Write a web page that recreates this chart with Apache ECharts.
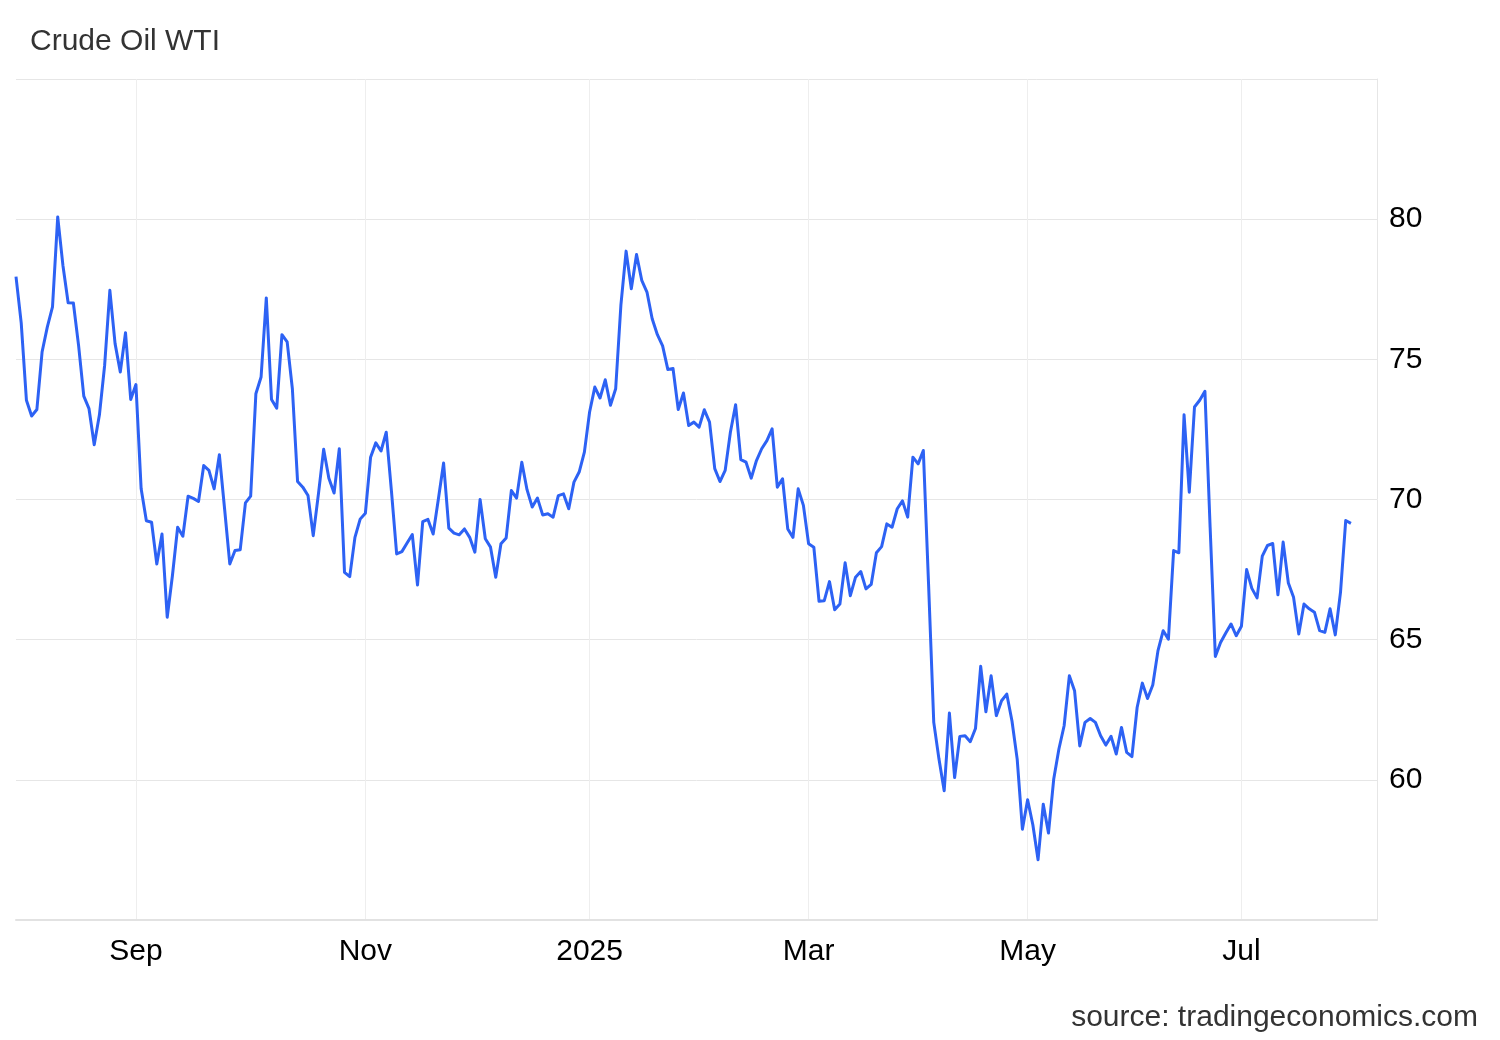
<!DOCTYPE html>
<html>
<head>
<meta charset="utf-8">
<script src="https://cdn.jsdelivr.net/npm/echarts@6/dist/echarts.min.js"></script>
<style>
  html, body { margin: 0; padding: 0; background: #ffffff; }
  #chart { width: 1500px; height: 1040px; }
</style>
</head>
<body>
<div id="chart"></div>
<script>
// ---- Trading calendar (weekdays, minus days with no print) ----
const firstDay = '2024-07-31';
const lastDay = '2025-08-06';          // axis runs a few sessions past the last price
const closedDays = ['2025-01-01', '2025-04-18', '2025-05-26', '2025-06-19'];

// ---- Month tick labels ----
const tickDates = ['2024-09-02', '2024-11-01', '2025-01-02', '2025-03-03', '2025-05-01', '2025-07-01'];
const tickLabels = ['Sep', 'Nov', '2025', 'Mar', 'May', 'Jul'];

// ---- Crude Oil WTI, USD/bbl, per month ----
const jul24 = [77.95];
const aug24 = [76.3, 73.54, 72.98, 73.21, 75.26, 76.15, 76.87, 80.08, 78.35, 77.02, 77.01,
               75.5, 73.69, 73.24, 71.95, 73.02, 74.79, 77.46, 75.56, 74.55, 75.95, 73.57];
const sep24 = [74.1, 70.38, 69.24, 69.19, 67.7, 68.77, 65.8, 67.29, 69.01, 68.69, 70.12,
               70.04, 69.93, 71.21, 71.04, 70.38, 71.6, 69.67, 67.7, 68.18, 68.21];
const oct24 = [69.88, 70.12, 73.77, 74.37, 77.19, 73.57, 73.26, 75.88, 75.62, 73.95, 70.64,
               70.44, 70.14, 68.71, 70.2, 71.79, 70.76, 70.23, 71.81, 67.4, 67.25, 68.65, 69.3];
const nov24 = [69.51, 71.51, 72.02, 71.73, 72.4, 70.3, 68.06, 68.14, 68.45, 68.75, 66.95,
               69.21, 69.29, 68.77, 70.02, 71.3, 68.98, 68.8, 68.74, 68.95, 68.65];
const dec24 = [68.12, 70.0, 68.6, 68.3, 67.23, 68.42, 68.63, 70.32, 70.05, 71.33, 70.35,
               69.73, 70.05, 69.45, 69.49, 69.37, 70.14, 70.2, 69.67, 70.62, 70.98, 71.69];
const jan25 = [73.12, 74.01, 73.62, 74.27, 73.36, 73.95, 76.93, 78.86, 77.52, 78.74, 77.82,
               77.4, 76.45, 75.88, 75.48, 74.64, 74.67, 73.21, 73.8, 72.64, 72.76, 72.58];
const feb25 = [73.2, 72.76, 71.1, 70.64, 71.04, 72.4, 73.38, 71.42, 71.33, 70.76, 71.39,
               71.81, 72.1, 72.52, 70.44, 70.74, 68.95, 68.65, 70.38, 69.79];
const mar25 = [68.42, 68.3, 66.37, 66.39, 67.07, 66.07, 66.27, 67.74, 66.57, 67.23, 67.43,
               66.81, 66.97, 68.1, 68.32, 69.13, 69.01, 69.67, 69.95, 69.37, 71.51];
const apr25 = [71.27, 71.75, 67.0, 62.05, 60.74, 59.61, 62.38, 60.08, 61.55, 61.57, 61.36,
               61.83, 64.05, 62.43, 63.71, 62.29, 62.82, 63.06, 62.1, 60.74, 58.24];
const may25 = [59.29, 58.4, 57.15, 59.13, 58.1, 60.02, 61.1, 61.93, 63.71, 63.18, 61.21,
               62.05, 62.19, 62.05, 61.57, 61.24, 61.55, 60.92, 61.87, 60.98, 60.83];
const jun25 = [62.58, 63.45, 62.9, 63.38, 64.61, 65.32, 65.02, 68.18, 68.1, 73.02, 70.26,
               73.3, 73.54, 73.86, 69.0, 64.4, 64.9, 65.24, 65.56, 65.14];
const jul25 = [65.48, 67.5, 66.83, 66.49, 67.98, 68.36, 68.43, 66.6, 68.48, 67.02, 66.51,
               65.2, 66.27, 66.1, 65.98, 65.32, 65.26, 66.1, 65.17, 66.69, 69.25, 69.15];

const prices = [].concat(jul24, aug24, sep24, oct24, nov24, dec24, jan25, feb25,
                         mar25, apr25, may25, jun25, jul25);

function buildCalendar(from, to, closed) {
  const out = [];
  const d = new Date(from + 'T00:00:00Z');
  const end = new Date(to + 'T00:00:00Z');
  while (d <= end) {
    const wd = d.getUTCDay();
    const s = d.toISOString().slice(0, 10);
    if (wd !== 0 && wd !== 6 && closed.indexOf(s) < 0) out.push(s);
    d.setUTCDate(d.getUTCDate() + 1);
  }
  return out;
}
const dates = buildCalendar(firstDay, lastDay, closedDays);

const isTick = (idx, val) => tickDates.indexOf(val) >= 0;

const chart = echarts.init(document.getElementById('chart'), null, { renderer: 'canvas' });
const FONT = "'Liberation Sans', Arial, Helvetica, sans-serif";

chart.setOption({
  animation: false,
  backgroundColor: '#ffffff',
  title: {
    text: 'Crude Oil WTI',
    left: 25,
    top: 22,
    textStyle: { fontFamily: FONT, fontSize: 30, fontWeight: 'normal', color: '#333333' }
  },
  graphic: [{
    type: 'text',
    right: 22,
    top: 1003,
    style: { text: 'source: tradingeconomics.com', font: "30px 'Liberation Sans', Arial, sans-serif", fill: '#333333' }
  }],
  grid: { left: 16, right: 123, top: 79, bottom: 120, containLabel: false },
  xAxis: {
    type: 'category',
    data: dates,
    boundaryGap: false,
    axisLine: { show: true, lineStyle: { color: '#e2e2e2', width: 2 } },
    axisTick: { show: false },
    axisLabel: {
      interval: isTick,
      formatter: (val) => tickLabels[tickDates.indexOf(val)] || '',
      fontFamily: FONT, fontSize: 30, color: '#000000', margin: 17
    },
    splitLine: { show: true, interval: isTick, lineStyle: { color: '#eeeeee', width: 1 } }
  },
  yAxis: {
    type: 'value',
    position: 'right',
    min: 55, max: 85, interval: 5,
    axisLine: { show: true, lineStyle: { color: '#e6e6e6', width: 1 } },
    axisTick: { show: false },
    axisLabel: { showMinLabel: false, showMaxLabel: false, fontFamily: FONT, fontSize: 30, color: '#000000', margin: 12, padding: [4, 0, 0, 0] },
    splitLine: { show: true, lineStyle: { color: '#e6e6e6', width: 1 } }
  },
  series: [{
    type: 'line',
    data: prices,
    showSymbol: false,
    symbol: 'none',
    lineStyle: { color: '#2d62f4', width: 3, join: 'round' },
    itemStyle: { color: '#2d62f4' }
  }]
});
</script>
</body>
</html>
